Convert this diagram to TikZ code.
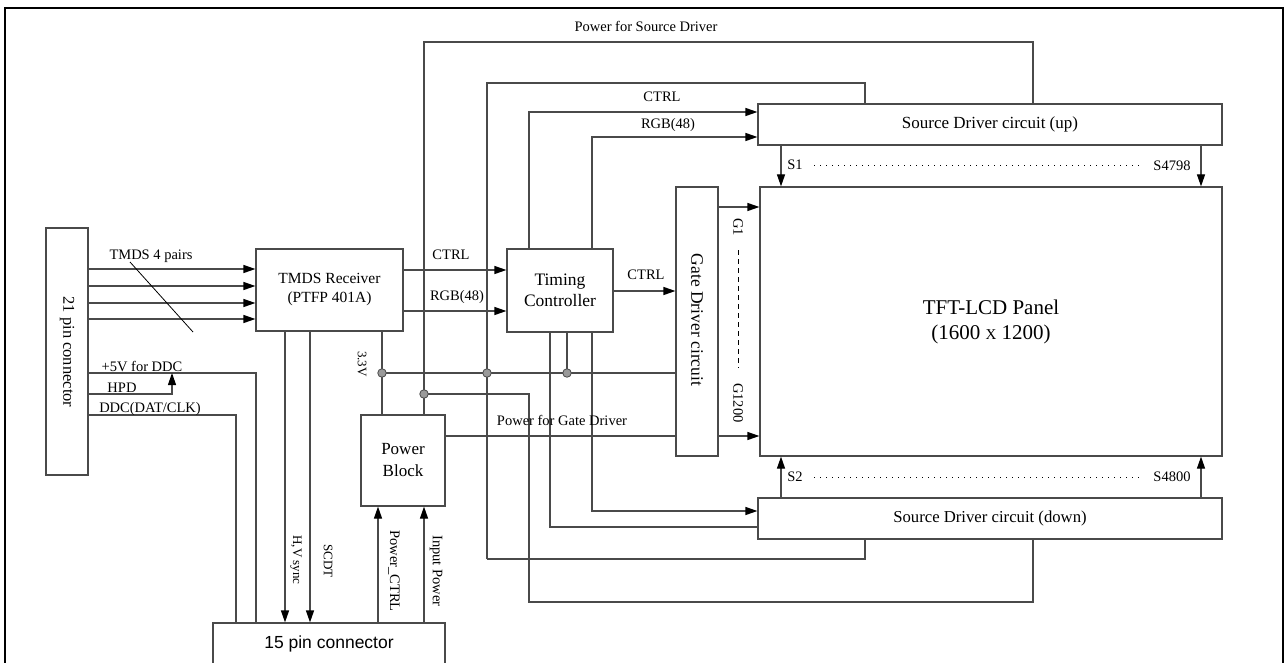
\documentclass[tikz,border=0pt]{standalone}
\usepackage{fontspec}
\setmainfont{Liberation Serif}
\setsansfont{Liberation Sans}
\usetikzlibrary{arrows.meta,calc}
\definecolor{wirec}{HTML}{4A4A4A}
\definecolor{dotfill}{HTML}{9A9A9A}
\begin{document}
\begin{tikzpicture}[x=1pt,y=-1pt,
  box/.style={draw=wirec, line width=1.2pt, fill=white, inner sep=0pt, align=center, font=\fontsize{17.5}{21}\selectfont},
  wire/.style={draw=wirec, line width=1.2pt},
  arr/.style={wire, -{Triangle[length=12pt,width=8pt,color=black]}},
  lbl/.style={font=\fontsize{14.5}{16}\selectfont, inner sep=0pt},
  slbl/.style={font=\fontsize{13}{15}\selectfont, inner sep=0pt},
  jdot/.style={circle, fill=dotfill, draw=wirec, line width=0.8pt, minimum size=8.5pt, inner sep=0pt},
  dotl/.style={draw=black, line width=0.8pt, dash pattern=on 1pt off 5pt},
  dashl/.style={draw=black, line width=0.8pt, dash pattern=on 5pt off 4pt}]
\useasboundingbox (0,0) rectangle (1287,663);
\fill[white] (0,0) rectangle (1287,663);
% frame
\draw[line width=2pt] (5,670) -- (5,8) -- (1283,8) -- (1283,670);

% blocks
\node[box, minimum width=42pt, minimum height=247pt] (c21) at (67,351.5) {};
\node[font=\fontsize{16.5}{19}\selectfont, rotate=-90] (c21t) at (67,352) {21 pin connector};
\node[box, minimum width=147pt, minimum height=82pt, font=\fontsize{15.5}{19}\selectfont] (tmds) at (329.5,290) {TMDS Receiver\\(PTFP 401A)};
\node[box, minimum width=106pt, minimum height=83pt] (tc) at (560,290.5) {Timing\\Controller};
\node[box, minimum width=42pt, minimum height=269pt] (gd) at (697,321.5) {};
\node[font=\fontsize{17.5}{21}\selectfont, rotate=-90] (gdt) at (697,320) {Gate Driver circuit};
\node[box, minimum width=462pt, minimum height=269pt, font=\fontsize{21}{25}\selectfont] (panel) at (991,321.5) {TFT-LCD Panel\\(1600 {\fontsize{15}{18}\selectfont X} 1200)};
\node[box, minimum width=464pt, minimum height=41pt, font=\fontsize{17}{20}\selectfont] (sup) at (990,124.5) {Source Driver circuit (up)};
\node[box, minimum width=464pt, minimum height=41pt, font=\fontsize{16.7}{20}\selectfont] (sdn) at (990,518.5) {Source Driver circuit (down)};
\node[box, minimum width=84pt, minimum height=91pt, font=\fontsize{17}{22}\selectfont] (pb) at (403,460.5) {Power\\Block};
\node[box, minimum width=232pt, minimum height=42pt, font=\sffamily\fontsize{17.5}{20}\selectfont] (c15) at (329,644) {15 pin connector};

% junction coordinates
\coordinate (j5v) at (256,373);
\coordinate (jhpd) at (172,394);
\coordinate (jddc) at (236,415);
\coordinate (ja) at (382,373);
\coordinate (jb) at (487,373);
\coordinate (jc) at (567,373);
\coordinate (jd) at (424,394);
\coordinate (jps) at (424,42);
\coordinate (jpsr) at (1033,42);
\coordinate (jsu) at (487,83);
\coordinate (jsur) at (865,83);
\coordinate (jsd) at (487,559);
\coordinate (jsdr) at (865,559);
\coordinate (jpd) at (529,394);
\coordinate (jpd2) at (529,602);
\coordinate (jpd3) at (1033,602);
\coordinate (jcu) at (529,112);
\coordinate (jru) at (592,137);
\coordinate (jcd) at (550,527);
\coordinate (jrd) at (592,511);

% TMDS pairs
\foreach \yy in {269,286,303,319}
  \draw[arr] (c21.east |- 0,\yy) -- (tmds.west |- 0,\yy);
\draw[draw=black, line width=0.8pt] (130,262) -- (193,332);
\node[lbl] (ltmds) at (151,256) {TMDS 4 pairs};

% DDC lines
\draw[wire] (c21.east |- j5v) -- (j5v) -- (c15.north -| j5v);
\draw[arr] (c21.east |- jhpd) -- (jhpd) -- (jhpd |- j5v);
\draw[wire] (c21.east |- jddc) -- (jddc) -- (c15.north -| jddc);
\node[lbl] (l5v) at (142,367) {+5V for DDC};
\node[lbl] (lhpd) at (122,388) {HPD};
\node[lbl] (lddc) at (150,409) {DDC(DAT/CLK)};

% TMDS -> TC
\draw[arr] (tmds.east |- 0,270) -- (tc.west |- 0,270);
\draw[arr] (tmds.east |- 0,311) -- (tc.west |- 0,311);
\node[lbl] (lc1) at (451,255) {CTRL};
\node[lbl] (lr1) at (457,297) {RGB(48)};

% TMDS -> 15 pin
\draw[arr] (tmds.south -| 285,0) -- (c15.north -| 285,0);
\draw[arr] (tmds.south -| 310,0) -- (c15.north -| 310,0);
\node[slbl, rotate=-90] (lhv) at (296,560) {H,V sync};
\node[slbl, rotate=-90] (lscdt) at (328,561) {SCDT};

% 15 pin -> power block
\draw[arr] (c15.north -| 378,0) -- (pb.south -| 378,0);
\draw[arr] (c15.north -| 424,0) -- (pb.south -| 424,0);
\node[lbl, rotate=-90] (lpc) at (394,571) {Power\_CTRL};
\node[lbl, rotate=-90] (lip) at (436,571) {Input Power};

% 3.3V
\draw[wire] (tmds.south -| ja) -- (pb.north -| ja);
\draw[wire] (ja) -- (gd.west |- ja);
\draw[wire] (tc.south -| jc) -- (jc);
\node[slbl, rotate=-90] (l33) at (362,364) {3.3V};

% power for source driver
\draw[wire] (pb.north -| jps) -- (jps) -- (jpsr) -- (sup.north -| jpsr);
\draw[wire] (jd) -- (jpd) -- (jpd2) -- (jpd3) -- (sdn.south -| jpd3);
\node[lbl] (lpsd) at (646,26) {Power for Source Driver};

% 3.3V to source drivers
\draw[wire] (jsd) -- (jsu) -- (jsur) -- (sup.north -| jsur);
\draw[wire] (jsd) -- (jsdr) -- (sdn.south -| jsdr);

% TC -> source up
\draw[arr] (tc.north -| jcu) -- (jcu) -- (sup.west |- jcu);
\draw[arr] (tc.north -| jru) -- (jru) -- (sup.west |- jru);
\node[lbl] (lc2) at (662,97) {CTRL};
\node[lbl] (lr2) at (668,125) {RGB(48)};

% TC -> source down
\draw[wire] (tc.south -| jcd) -- (jcd) -- (sdn.west |- jcd);
\draw[arr] (tc.south -| jrd) -- (jrd) -- (sdn.west |- jrd);

% TC -> gate
\draw[arr] (tc.east |- 0,291) -- (gd.west |- 0,291);
\node[lbl] (lc3) at (646,275) {CTRL};

% power for gate driver
\draw[wire] (pb.east |- 0,436) -- (gd.west |- 0,436);
\node[lbl] (lpgd) at (562,420) {Power for Gate Driver};

% gate -> panel
\draw[arr] (gd.east |- 0,207) -- (panel.west |- 0,207);
\draw[arr] (gd.east |- 0,436) -- (panel.west |- 0,436);
\node[lbl, rotate=-90] (lg1) at (738,227) {G1};
\node[lbl, rotate=-90] (lg1200) at (738,403) {G1200};
\draw[dashl] (738,250) -- (738,368);

% source -> panel
\draw[arr] (sup.south -| 781,0) -- (panel.north -| 781,0);
\draw[arr] (sup.south -| 1201,0) -- (panel.north -| 1201,0);
\draw[arr] (sdn.north -| 781,0) -- (panel.south -| 781,0);
\draw[arr] (sdn.north -| 1201,0) -- (panel.south -| 1201,0);
\node[lbl] (ls1) at (795,165) {S1};
\node[lbl] (ls4798) at (1172,166) {S4798};
\node[lbl] (ls2) at (795,477) {S2};
\node[lbl] (ls4800) at (1172,477) {S4800};
\draw[dotl] (814,165) -- (1143,165);
\draw[dotl] (814,477) -- (1143,477);

% junction dots
\node[jdot] (da) at (ja) {};
\node[jdot] (db) at (jb) {};
\node[jdot] (dc) at (jc) {};
\node[jdot] (dd) at (jd) {};
\end{tikzpicture}
\end{document}
